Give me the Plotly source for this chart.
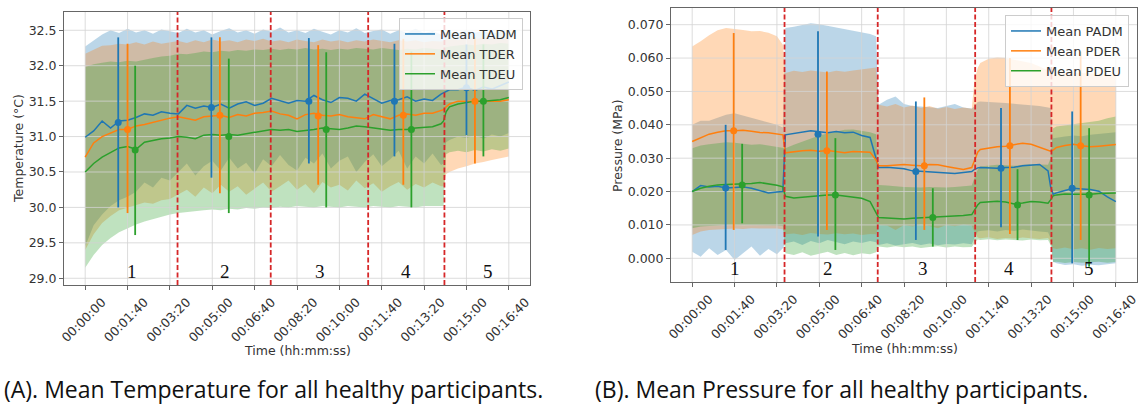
import plotly.graph_objects as go

# ---------------- data : temperature (left panel) ----------------
T_TEMP = [0, 20, 40, 60, 80, 100, 120, 140, 160, 180,
          200, 220, 240, 260, 280, 300, 320, 340, 360, 380,
          400, 420, 440, 460, 480, 500, 520, 540, 560, 580,
          600, 620, 640, 660, 680, 700, 720, 740, 760, 780,
          800, 820, 840, 846, 852, 860, 880, 900, 920, 940,
          960, 980, 1000]

TADM = [30.99, 31.08, 31.22, 31.12, 31.22, 31.23, 31.27, 31.32, 31.30, 31.35,
        31.33, 31.32, 31.44, 31.40, 31.43, 31.41, 31.46, 31.40, 31.46, 31.49,
        31.44, 31.47, 31.54, 31.50, 31.47, 31.51, 31.50, 31.58, 31.52, 31.48,
        31.55, 31.54, 31.50, 31.60, 31.53, 31.47, 31.51, 31.52, 31.56, 31.50,
        31.53, 31.51, 31.60, 31.62, 31.64, 31.66, 31.66, 31.70, 31.65, 31.70,
        31.67, 31.72, 31.77]
TDER = [30.71, 30.91, 31.00, 31.05, 31.10, 31.10, 31.15, 31.17, 31.20, 31.24,
        31.26, 31.28, 31.25, 31.23, 31.28, 31.29, 31.30, 31.27, 31.31, 31.29,
        31.33, 31.34, 31.36, 31.32, 31.30, 31.25, 31.31, 31.33, 31.30, 31.29,
        31.31, 31.28, 31.26, 31.25, 31.31, 31.28, 31.25, 31.30, 31.32, 31.30,
        31.33, 31.33, 31.36, 31.38, 31.42, 31.46, 31.50, 31.50, 31.51, 31.50,
        31.51, 31.50, 31.52]
TDEU = [30.50, 30.62, 30.71, 30.78, 30.84, 30.86, 30.82, 30.92, 30.95, 30.97,
        30.98, 31.00, 30.99, 30.97, 31.02, 31.03, 31.02, 31.03, 31.02, 31.04,
        31.06, 31.07, 31.10, 31.09, 31.10, 31.07, 31.08, 31.10, 31.12, 31.11,
        31.10, 31.12, 31.15, 31.14, 31.12, 31.11, 31.09, 31.10, 31.10, 31.12,
        31.13, 31.14, 31.18, 31.22, 31.35, 31.42, 31.46, 31.48, 31.50, 31.50,
        31.51, 31.52, 31.55]

TADM_HI = [32.27, 32.36, 32.44, 32.50, 32.46, 32.52, 32.47, 32.50, 32.45, 32.51,
           32.48, 32.46, 32.52, 32.47, 32.50, 32.44, 32.49, 32.53, 32.47, 32.50,
           32.45, 32.51, 32.48, 32.54, 32.47, 32.50, 32.46, 32.52, 32.48, 32.44,
           32.50, 32.47, 32.53, 32.46, 32.49, 32.51, 32.45, 32.50, 32.47, 32.52,
           32.46, 32.49, 32.44, 32.45, 32.47, 32.48, 32.46, 32.50, 32.47, 32.49,
           32.45, 32.48, 32.46]
TDER_HI = [32.17, 32.22, 32.28, 32.29, 32.31, 32.30, 32.33, 32.30, 32.34, 32.31,
           32.33, 32.35, 32.32, 32.36, 32.33, 32.37, 32.34, 32.36, 32.33, 32.37,
           32.35, 32.38, 32.34, 32.36, 32.33, 32.37, 32.35, 32.33, 32.37, 32.34,
           32.36, 32.33, 32.36, 32.34, 32.37, 32.35, 32.33, 32.36, 32.34, 32.36,
           32.33, 32.35, 32.34, 32.35, 32.37, 32.38, 32.36, 32.39, 32.37, 32.40,
           32.38, 32.41, 32.40]
TDEU_HI = [31.98, 32.02, 32.04, 32.06, 32.05, 32.07, 32.06, 32.09, 32.11, 32.13,
           32.14, 32.17, 32.16, 32.18, 32.20, 32.19, 32.21, 32.20, 32.22, 32.21,
           32.23, 32.22, 32.24, 32.22, 32.24, 32.23, 32.25, 32.23, 32.24, 32.22,
           32.24, 32.23, 32.25, 32.24, 32.23, 32.25, 32.24, 32.22, 32.24, 32.23,
           32.25, 32.24, 32.23, 32.24, 32.26, 32.27, 32.28, 32.30, 32.29, 32.31,
           32.30, 32.32, 32.31]
TADM_LO = [29.45, 29.75, 29.90, 30.02, 30.10, 30.15, 30.22, 30.35, 30.28, 30.42,
           30.38, 30.50, 30.62, 30.45, 30.58, 30.66, 30.52, 30.70, 30.55, 30.63,
           30.48, 30.68, 30.58, 30.74, 30.60, 30.52, 30.70, 30.62, 30.76, 30.55,
           30.66, 30.72, 30.50, 30.64, 30.75, 30.58, 30.68, 30.80, 30.55, 30.72,
           30.62, 30.76, 30.60, 30.62, 30.92, 30.95, 31.00, 30.98, 31.02, 30.97,
           31.03, 31.00, 31.05]
TDER_LO = [29.40, 29.62, 29.78, 29.88, 29.96, 30.00, 30.03, 30.07, 30.05, 30.10,
           30.12, 30.18, 30.25, 30.15, 30.28, 30.20, 30.32, 30.22, 30.30, 30.18,
           30.27, 30.35, 30.22, 30.30, 30.38, 30.25, 30.33, 30.20, 30.36, 30.28,
           30.32, 30.24, 30.38, 30.27, 30.34, 30.22, 30.30, 30.36, 30.25, 30.33,
           30.28, 30.35, 30.30, 30.30, 30.47, 30.50, 30.55, 30.58, 30.62, 30.64,
           30.67, 30.70, 30.72]
TDEU_LO = [29.15, 29.33, 29.47, 29.57, 29.65, 29.71, 29.76, 29.80, 29.84, 29.87,
           29.90, 29.92, 29.94, 29.95, 29.96, 29.97, 29.96, 29.98, 29.97, 29.99,
           29.98, 30.00, 29.99, 30.01, 30.00, 30.02, 30.01, 30.00, 30.02, 30.01,
           30.00, 30.02, 30.01, 30.00, 30.02, 30.01, 30.00, 30.02, 30.01, 30.00,
           30.02, 30.01, 30.02, 30.02, 30.75, 30.78, 30.80, 30.78, 30.81, 30.79,
           30.82, 30.80, 30.83]

# error bars (temperature): x (s), mean, top, bottom
EBT_TADM_X = [78, 298, 528, 730, 900]
EBT_TADM_Y = [31.20, 31.41, 31.50, 31.50, 31.69]
EBT_TADM_HI = [32.40, 32.40, 32.39, 32.31, 32.30]
EBT_TADM_LO = [30.00, 30.42, 30.62, 30.72, 31.02]
EBT_TDER_X = [100, 318, 550, 751, 920]
EBT_TDER_Y = [31.10, 31.30, 31.29, 31.30, 31.50]
EBT_TDER_HI = [32.31, 32.40, 32.29, 32.38, 32.40]
EBT_TDER_LO = [29.92, 30.20, 30.32, 30.32, 30.62]
EBT_TDEU_X = [118, 339, 569, 770, 940]
EBT_TDEU_Y = [30.81, 31.00, 31.10, 31.10, 31.50]
EBT_TDEU_HI = [32.00, 32.10, 32.19, 32.20, 32.30]
EBT_TDEU_LO = [29.61, 29.92, 30.00, 30.00, 30.72]

# ---------------- data : pressure (right panel) ----------------
T_PRES = [0, 20, 40, 60, 80, 100, 120, 140, 160, 180,
          200, 214, 220, 240, 260, 280, 300, 320, 340, 360,
          380, 400, 420, 434, 440, 460, 480, 500, 520, 540,
          560, 580, 600, 620, 640, 660, 666, 674, 680, 700,
          720, 740, 760, 780, 800, 820, 840, 846, 852, 860,
          880, 900, 920, 940, 960, 980, 1000]

PADM = [0.0200, 0.0218, 0.0214, 0.0216, 0.0211, 0.0213, 0.0214, 0.0210, 0.0203, 0.0196,
        0.0199, 0.0200, 0.0370, 0.0374, 0.0378, 0.0382, 0.0379, 0.0376, 0.0380, 0.0376,
        0.0378, 0.0368, 0.0362, 0.0300, 0.0272, 0.0273, 0.0270, 0.0268, 0.0262, 0.0260,
        0.0259, 0.0256, 0.0255, 0.0254, 0.0257, 0.0260, 0.0266, 0.0271, 0.0272, 0.0271,
        0.0270, 0.0272, 0.0273, 0.0277, 0.0278, 0.0281, 0.0262, 0.0215, 0.0192, 0.0196,
        0.0203, 0.0210, 0.0208, 0.0206, 0.0201, 0.0184, 0.0170]
PDER = [0.0350, 0.0362, 0.0372, 0.0378, 0.0382, 0.0382, 0.0384, 0.0381, 0.0377, 0.0376,
        0.0373, 0.0370, 0.0316, 0.0320, 0.0322, 0.0324, 0.0321, 0.0323, 0.0320, 0.0316,
        0.0320, 0.0319, 0.0318, 0.0295, 0.0277, 0.0277, 0.0279, 0.0281, 0.0279, 0.0277,
        0.0281, 0.0280, 0.0275, 0.0270, 0.0266, 0.0272, 0.0292, 0.0318, 0.0326, 0.0331,
        0.0334, 0.0336, 0.0340, 0.0345, 0.0342, 0.0333, 0.0326, 0.0321, 0.0324, 0.0332,
        0.0338, 0.0342, 0.0337, 0.0334, 0.0336, 0.0338, 0.0341]
PDEU = [0.0200, 0.0210, 0.0216, 0.0220, 0.0221, 0.0222, 0.0222, 0.0224, 0.0227, 0.0224,
        0.0219, 0.0214, 0.0186, 0.0181, 0.0183, 0.0185, 0.0189, 0.0190, 0.0190, 0.0187,
        0.0184, 0.0180, 0.0170, 0.0136, 0.0122, 0.0121, 0.0119, 0.0118, 0.0120, 0.0121,
        0.0122, 0.0123, 0.0124, 0.0125, 0.0128, 0.0131, 0.0142, 0.0160, 0.0167, 0.0170,
        0.0171, 0.0169, 0.0163, 0.0166, 0.0170, 0.0169, 0.0165, 0.0175, 0.0187, 0.0190,
        0.0193, 0.0192, 0.0191, 0.0192, 0.0194, 0.0195, 0.0196]

PADM_HI = [0.0400, 0.0412, 0.0412, 0.0422, 0.0430, 0.0435, 0.0428, 0.0420, 0.0414, 0.0406,
           0.0400, 0.0392, 0.0690, 0.0694, 0.0700, 0.0704, 0.0701, 0.0696, 0.0692, 0.0688,
           0.0683, 0.0678, 0.0672, 0.0665, 0.0460, 0.0475, 0.0485, 0.0462, 0.0456, 0.0455,
           0.0452, 0.0450, 0.0456, 0.0462, 0.0452, 0.0449, 0.0455, 0.0468, 0.0470, 0.0469,
           0.0467, 0.0465, 0.0463, 0.0461, 0.0458, 0.0456, 0.0452, 0.0450, 0.0360, 0.0362,
           0.0365, 0.0368, 0.0366, 0.0370, 0.0372, 0.0375, 0.0378]
PDER_HI = [0.0635, 0.0650, 0.0668, 0.0683, 0.0690, 0.0688, 0.0684, 0.0680, 0.0681, 0.0676,
           0.0665, 0.0640, 0.0555, 0.0562, 0.0558, 0.0563, 0.0560, 0.0557, 0.0562, 0.0559,
           0.0563, 0.0566, 0.0570, 0.0572, 0.0460, 0.0455, 0.0462, 0.0452, 0.0458, 0.0450,
           0.0456, 0.0448, 0.0453, 0.0447, 0.0452, 0.0448, 0.0530, 0.0570, 0.0585, 0.0598,
           0.0602, 0.0600, 0.0595, 0.0590, 0.0585, 0.0575, 0.0565, 0.0560, 0.0550, 0.0552,
           0.0555, 0.0557, 0.0556, 0.0555, 0.0553, 0.0552, 0.0550]
PDEU_HI = [0.0330, 0.0338, 0.0342, 0.0345, 0.0348, 0.0346, 0.0343, 0.0340, 0.0342, 0.0338,
           0.0335, 0.0333, 0.0330, 0.0340, 0.0350, 0.0360, 0.0368, 0.0374, 0.0380, 0.0385,
           0.0386, 0.0383, 0.0378, 0.0372, 0.0220, 0.0218, 0.0215, 0.0214, 0.0213, 0.0212,
           0.0214, 0.0213, 0.0212, 0.0214, 0.0216, 0.0218, 0.0240, 0.0265, 0.0275, 0.0278,
           0.0280, 0.0279, 0.0277, 0.0280, 0.0282, 0.0281, 0.0280, 0.0300, 0.0390, 0.0395,
           0.0398, 0.0402, 0.0405, 0.0408, 0.0412, 0.0420, 0.0425]
PADM_LO = [0.0020, 0.0005, 0.0030, 0.0010, 0.0025, -0.0005, 0.0015, 0.0035, 0.0008, 0.0028,
           0.0012, 0.0030, 0.0045, 0.0050, 0.0040, 0.0052, 0.0045, 0.0055, 0.0048, 0.0042,
           0.0050, 0.0046, 0.0052, 0.0048, 0.0040, 0.0045, 0.0038, 0.0042, 0.0046, 0.0040,
           0.0044, 0.0039, 0.0043, 0.0041, 0.0045, 0.0042, 0.0060, 0.0080, 0.0082, 0.0084,
           0.0080, 0.0085, 0.0082, 0.0086, 0.0083, 0.0080, 0.0078, 0.0060, -0.0010, -0.0015,
           -0.0020, -0.0018, -0.0022, -0.0019, -0.0021, -0.0017, -0.0015]
PDER_LO = [0.0070, 0.0080, 0.0085, 0.0086, 0.0088, 0.0089, 0.0088, 0.0090, 0.0089, 0.0088,
           0.0089, 0.0087, 0.0072, 0.0074, 0.0070, 0.0076, 0.0073, 0.0071, 0.0075, 0.0072,
           0.0074, 0.0070, 0.0073, 0.0072, 0.0100, 0.0098, 0.0085, 0.0100, 0.0095, 0.0102,
           0.0097, 0.0090, 0.0100, 0.0096, 0.0101, 0.0098, 0.0080, 0.0062, 0.0060, 0.0063,
           0.0058, 0.0061, 0.0059, 0.0062, 0.0060, 0.0058, 0.0061, 0.0050, 0.0030, 0.0028,
           0.0032, 0.0027, 0.0030, 0.0026, 0.0031, 0.0028, 0.0030]
PDEU_LO = [0.0090, 0.0095, 0.0097, 0.0098, 0.0100, 0.0099, 0.0100, 0.0101, 0.0100, 0.0099,
           0.0098, 0.0097, 0.0015, 0.0010, 0.0018, 0.0008, 0.0014, 0.0020, 0.0010, 0.0016,
           0.0009, 0.0015, 0.0012, 0.0018, 0.0035, 0.0032, 0.0036, 0.0033, 0.0035, 0.0031,
           0.0034, 0.0036, 0.0032, 0.0035, 0.0033, 0.0034, 0.0045, 0.0056, 0.0055, 0.0057,
           0.0054, 0.0056, 0.0055, 0.0053, 0.0056, 0.0054, 0.0055, 0.0040, -0.0012, -0.0010,
           -0.0014, -0.0011, -0.0013, -0.0012, -0.0010, -0.0013, -0.0011]

EBP_PADM_X = [79, 297, 528, 729, 897]
EBP_PADM_Y = [0.0211, 0.0372, 0.0260, 0.0270, 0.0210]
EBP_PADM_HI = [0.0400, 0.0680, 0.0470, 0.0450, 0.0440]
EBP_PADM_LO = [0.0025, 0.0065, 0.0055, 0.0093, -0.0015]
EBP_PDER_X = [98, 318, 548, 750, 917]
EBP_PDER_Y = [0.0382, 0.0322, 0.0277, 0.0337, 0.0337]
EBP_PDER_HI = [0.0675, 0.0560, 0.0482, 0.0600, 0.0620]
EBP_PDER_LO = [0.0085, 0.0085, 0.0085, 0.0073, 0.0055]
EBP_PDEU_X = [118, 338, 568, 768, 937]
EBP_PDEU_Y = [0.0220, 0.0190, 0.0122, 0.0160, 0.0190]
EBP_PDEU_HI = [0.0343, 0.0360, 0.0210, 0.0267, 0.0390]
EBP_PDEU_LO = [0.0105, 0.0025, 0.0035, 0.0055, -0.0025]

# phase boundaries and phase labels
BOUNDARIES = [218, 438, 668, 848]
PHASES = ["1", "2", "3", "4", "5"]
PHASE_X_TEMP = [110, 329, 554, 758, 950]
PHASE_X_PRES = [102, 320, 546, 748, 937]

# axis ticks
TIME_TICKS = [0, 100, 200, 300, 400, 500, 600, 700, 800, 900, 1000]
TIME_LABELS = ["00:00:00", "00:01:40", "00:03:20", "00:05:00", "00:06:40", "00:08:20",
               "00:10:00", "00:11:40", "00:13:20", "00:15:00", "00:16:40"]
TEMP_TICKS = [29.0, 29.5, 30.0, 30.5, 31.0, 31.5, 32.0, 32.5]
PRES_TICKS = [0.000, 0.010, 0.020, 0.030, 0.040, 0.050, 0.060, 0.070]

X_RANGE = [-50, 1050]
TEMP_RANGE = [28.905, 32.758]
PRES_RANGE = [-0.0071, 0.0750]

BLUE, ORANGE, GREEN = "#1f77b4", "#ff7f0e", "#2ca02c"
FILL = {BLUE: "rgba(31,119,180,0.3)", ORANGE: "rgba(255,127,14,0.3)", GREEN: "rgba(44,160,44,0.3)"}
GRID = "#d3d3d3"
TXT = "#333333"
FONT = "DejaVu Sans"

fig = go.Figure()


def add_band(t, lo, hi, color, xa, ya):
    fig.add_trace(go.Scatter(
        x=list(t) + list(t)[::-1], y=list(hi) + list(lo)[::-1],
        fill="toself", fillcolor=FILL[color], mode="lines", line=dict(width=0),
        hoverinfo="skip", showlegend=False, xaxis=xa, yaxis=ya))


def add_grid(yticks, yrange, xa, ya):
    gx, gy = [], []
    for v in TIME_TICKS:
        gx += [v, v, None]
        gy += [yrange[0], yrange[1], None]
    for v in yticks:
        gx += [X_RANGE[0], X_RANGE[1], None]
        gy += [v, v, None]
    fig.add_trace(go.Scatter(x=gx, y=gy, mode="lines", line=dict(color=GRID, width=0.8),
                             hoverinfo="skip", showlegend=False, xaxis=xa, yaxis=ya))


def add_line(t, y, color, name, xa, ya, legend):
    fig.add_trace(go.Scatter(x=t, y=y, mode="lines", name=name, line=dict(color=color, width=1.5),
                             xaxis=xa, yaxis=ya, legend=legend))


def add_ebar(x, y, hi, lo, color, xa, ya):
    fig.add_trace(go.Scatter(
        x=x, y=y, mode="markers", marker=dict(color=color, size=7),
        error_y=dict(type="data", symmetric=False,
                     array=[h - m for h, m in zip(hi, y)],
                     arrayminus=[m - l for m, l in zip(y, lo)],
                     color=color, thickness=1.8, width=0),
        showlegend=False, hoverinfo="skip", xaxis=xa, yaxis=ya))


# ---- left panel ----
add_band(T_TEMP, TADM_LO, TADM_HI, BLUE, "x", "y")
add_band(T_TEMP, TDER_LO, TDER_HI, ORANGE, "x", "y")
add_band(T_TEMP, TDEU_LO, TDEU_HI, GREEN, "x", "y")
add_grid(TEMP_TICKS, TEMP_RANGE, "x", "y")
add_line(T_TEMP, TADM, BLUE, "Mean TADM", "x", "y", "legend")
add_line(T_TEMP, TDER, ORANGE, "Mean TDER", "x", "y", "legend")
add_line(T_TEMP, TDEU, GREEN, "Mean TDEU", "x", "y", "legend")
add_ebar(EBT_TADM_X, EBT_TADM_Y, EBT_TADM_HI, EBT_TADM_LO, BLUE, "x", "y")
add_ebar(EBT_TDER_X, EBT_TDER_Y, EBT_TDER_HI, EBT_TDER_LO, ORANGE, "x", "y")
add_ebar(EBT_TDEU_X, EBT_TDEU_Y, EBT_TDEU_HI, EBT_TDEU_LO, GREEN, "x", "y")

# ---- right panel ----
add_band(T_PRES, PADM_LO, PADM_HI, BLUE, "x2", "y2")
add_band(T_PRES, PDER_LO, PDER_HI, ORANGE, "x2", "y2")
add_band(T_PRES, PDEU_LO, PDEU_HI, GREEN, "x2", "y2")
add_grid(PRES_TICKS, PRES_RANGE, "x2", "y2")
add_line(T_PRES, PADM, BLUE, "Mean PADM", "x2", "y2", "legend2")
add_line(T_PRES, PDER, ORANGE, "Mean PDER", "x2", "y2", "legend2")
add_line(T_PRES, PDEU, GREEN, "Mean PDEU", "x2", "y2", "legend2")
add_ebar(EBP_PADM_X, EBP_PADM_Y, EBP_PADM_HI, EBP_PADM_LO, BLUE, "x2", "y2")
add_ebar(EBP_PDER_X, EBP_PDER_Y, EBP_PDER_HI, EBP_PDER_LO, ORANGE, "x2", "y2")
add_ebar(EBP_PDEU_X, EBP_PDEU_Y, EBP_PDEU_HI, EBP_PDEU_LO, GREEN, "x2", "y2")

shapes = []
for xr, yr in (("x", "y domain"), ("x2", "y2 domain")):
    for b in BOUNDARIES:
        shapes.append(dict(type="line", xref=xr, yref=yr, x0=b, x1=b, y0=0, y1=1,
                           line=dict(color="#d62728", width=1.8, dash="5px,2.5px"), layer="above"))

ann = []
for lab, xp in zip(PHASES, PHASE_X_TEMP):
    ann.append(dict(text=lab, x=xp, y=29.1, xref="x", yref="y", showarrow=False,
                    xanchor="center", yanchor="middle",
                    font=dict(family="Liberation Serif", size=19, color="#111")))
for lab, xp in zip(PHASES, PHASE_X_PRES):
    ann.append(dict(text=lab, x=xp, y=-0.003, xref="x2", yref="y2", showarrow=False,
                    xanchor="center", yanchor="middle",
                    font=dict(family="Liberation Serif", size=19, color="#111")))

W, H = 1140, 407
axfont = dict(family=FONT, size=12.5, color=TXT)
capfont = dict(family="Open Sans", size=23, color="#111")
ann += [
    dict(text="Time (hh:mm:ss)", x=297 / W, y=1 - 350 / H, xref="paper", yref="paper",
         xanchor="center", yanchor="middle", showarrow=False, font=axfont),
    dict(text="Time (hh:mm:ss)", x=904 / W, y=1 - 348 / H, xref="paper", yref="paper",
         xanchor="center", yanchor="middle", showarrow=False, font=axfont),
    dict(text="Temperature (°C)", x=18 / W, y=1 - 149 / H, xref="paper", yref="paper",
         xanchor="center", yanchor="middle", showarrow=False, textangle=-90, font=axfont),
    dict(text="Pressure (MPa)", x=617 / W, y=1 - 146 / H, xref="paper", yref="paper",
         xanchor="center", yanchor="middle", showarrow=False, textangle=-90, font=axfont),
    dict(text="(A). Mean Temperature for all healthy participants.", x=2 / W, y=1 - 389 / H,
         xref="paper", yref="paper", xanchor="left", yanchor="middle", showarrow=False,
         font=capfont),
    dict(text="(B). Mean Pressure for all healthy participants.", x=593 / W, y=1 - 389 / H,
         xref="paper", yref="paper", xanchor="left", yanchor="middle", showarrow=False,
         font=capfont),
]

xcommon = dict(range=X_RANGE, tickvals=TIME_TICKS, ticktext=TIME_LABELS, tickangle=-45,
               ticklabelshift=17, showgrid=False, zeroline=False, showline=True, mirror=True,
               linecolor="#666", linewidth=1, ticks="outside", ticklen=4, tickcolor="#666",
               tickfont=axfont, automargin=False)
ycommon = dict(showgrid=False, zeroline=False, showline=True, mirror=True, linecolor="#666",
               linewidth=1, ticks="outside", ticklen=4, tickcolor="#666", tickfont=axfont,
               automargin=False)

legcommon = dict(xanchor="right", yanchor="top", bgcolor="rgba(255,255,255,0.8)",
                 bordercolor="#cccccc", borderwidth=1, font=dict(family=FONT, size=13, color=TXT))

fig.update_layout(
    width=W, height=H, margin=dict(l=0, r=0, t=0, b=0),
    paper_bgcolor="white", plot_bgcolor="white",
    xaxis=dict(domain=[64 / W, 530 / W], anchor="y", **xcommon),
    yaxis=dict(domain=[1 - 285 / H, 1 - 12 / H], anchor="x", range=TEMP_RANGE,
               tickvals=TEMP_TICKS, tickformat=".1f", **ycommon),
    xaxis2=dict(domain=[671 / W, 1137 / W], anchor="y2", **xcommon),
    yaxis2=dict(domain=[1 - 282 / H, 1 - 8 / H], anchor="x2", range=PRES_RANGE,
                tickvals=PRES_TICKS, tickformat=".3f", **ycommon),
    legend=dict(x=523 / W, y=1 - 18 / H, **legcommon),
    legend2=dict(x=1129 / W, y=1 - 15 / H, **legcommon),
    shapes=shapes, annotations=ann, showlegend=True,
)

fig.write_html("out.html", config={"displayModeBar": False},
               post_script="document.body.style.margin='0';document.body.style.overflow='hidden';")
